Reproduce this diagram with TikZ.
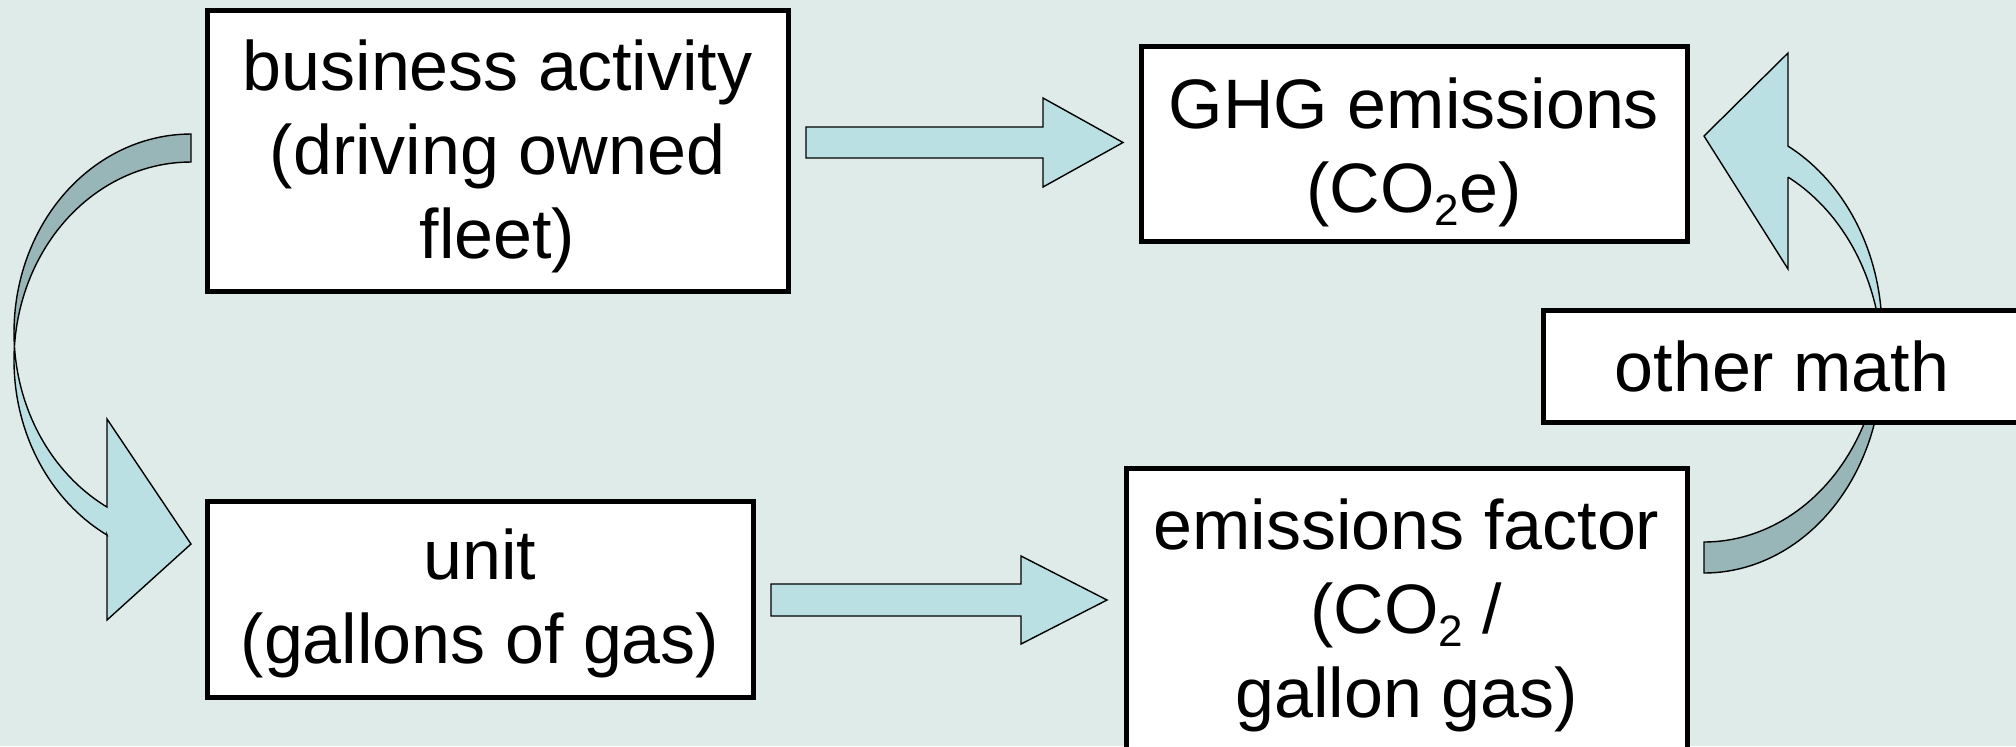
\documentclass[tikz,border=0pt]{standalone}
\usepackage{fontspec}
\setmainfont{Liberation Sans}
\definecolor{bgc}{HTML}{DFEBE9}
\definecolor{lightarrow}{HTML}{BBE0E3}
\definecolor{darkarrow}{HTML}{98B6B7}
\newcommand\mysub[1]{\raisebox{-0.19em}{\fontsize{22}{22}\selectfont #1}}
\tikzset{
  box/.style={draw=black, line width=2.5pt, fill=white, inner sep=0pt},
  lbl/.style={inner sep=0pt, align=center, font=\fontsize{35}{42}\selectfont},
  blockarrow/.style={draw=black, line width=0.7pt, fill=lightarrow, line join=miter},
  backarrow/.style={draw=black, line width=0.7pt, fill=darkarrow},
}
\begin{document}
\begin{tikzpicture}[x=0.5pt, y=-0.5pt]
\useasboundingbox (0,0) rectangle (2016,746);
\clip (0,0) rectangle (2016,746);
\fill[bgc] (0,0) rectangle (2016,746);

% left curved arrow (business activity -> unit)
\path[backarrow] plot[domain=90:184.05, samples=50] ({191+177*cos(\x)},{332.4-198.4*sin(\x)})
  -- plot[domain=175.95:90, samples=50] ({191+177*cos(\x)},{360.4-198.4*sin(\x)}) -- cycle;
\path[blockarrow] plot[domain=184.05:241.67, samples=40] ({191+177*cos(\x)},{332.4-198.4*sin(\x)})
  -- (107,419) -- (191,544) -- (107,620) -- (107,535)
  -- plot[domain=241.67:175.95, samples=40] ({191+177*cos(\x)},{360.4-198.4*sin(\x)}) -- cycle;

% right curved arrow (emissions factor -> GHG emissions)
\path[backarrow] plot[domain=-90:-4.23, samples=50] ({1704+178*cos(\x)},{331.6-210.4*sin(\x)})
  -- plot[domain=4.23:-90, samples=50] ({1704+178*cos(\x)},{362.6-210.4*sin(\x)}) -- cycle;
\path[blockarrow] plot[domain=-4.23:61.84, samples=50] ({1704+178*cos(\x)},{331.6-210.4*sin(\x)})
  -- (1788,53) -- (1704,136) -- (1788,269) -- (1788,177)
  -- plot[domain=61.84:4.23, samples=50] ({1704+178*cos(\x)},{362.6-210.4*sin(\x)}) -- cycle;

% straight arrows
\path[blockarrow] (806,127) -- (1043,127) -- (1043,98) -- (1123,142.5) -- (1043,187) -- (1043,158) -- (806,158) -- cycle;
\path[blockarrow] (771,584) -- (1021,584) -- (1021,556) -- (1107,600) -- (1021,644) -- (1021,616) -- (771,616) -- cycle;

% boxes
\node[box, minimum width=290.5pt, minimum height=140.5pt] (activity) at (497.5,150.5) {};
\node[lbl] (activity-text) at ([yshift=-3pt]activity.center)
  {business activity\\(driving owned\\fleet)};
\node[box, minimum width=273pt, minimum height=97.5pt] (ghg) at (1414,143.5) {};
\node[lbl] (ghg-text) at ([yshift=-4.5pt]ghg.center)
  {GHG emissions\\(CO\mysub{2}e)};
\node[box, minimum width=239pt, minimum height=56pt] (other) at (1782,366) {};
\node[lbl] (other-text) at (other.center) {other math};
\node[box, minimum width=273pt, minimum height=98pt] (unit) at (480,599) {};
\node[lbl] (unit-text) at ([yshift=-2pt]unit.center)
  {unit\\(gallons of gas)};
\node[box, minimum width=280.5pt, minimum height=140.5pt] (factor) at (1406.5,608.5) {};
\node[lbl] (factor-text) at ([yshift=-3.5pt]factor.center)
  {emissions factor\\(CO\mysub{2} /\\gallon gas)};
\end{tikzpicture}
\end{document}
